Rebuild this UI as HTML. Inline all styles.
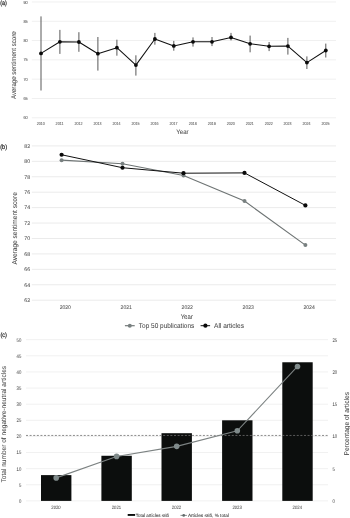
<!DOCTYPE html>
<html lang="en">
<head>
<meta charset="utf-8">
<title>Figure</title>
<style>
html,body{margin:0;padding:0;background:#fff;}
body{width:350px;height:518px;overflow:hidden;}
svg{display:block;font-family:"Liberation Sans", sans-serif;text-rendering:geometricPrecision;}
</style>
</head>
<body>
<svg width="350" height="518" viewBox="0 0 350 518">
<rect width="350" height="518" fill="#ffffff"/>
<text transform="translate(0.2 5.2) scale(0.05)" font-size="132.0" text-anchor="start" fill="#1a1a1a" textLength="132.0" lengthAdjust="spacingAndGlyphs"  stroke="#1a1a1a" stroke-width="4.0">(a)</text>
<line x1="31.8" x2="336" y1="117.78" y2="117.78" stroke="#f0f0f0" stroke-width="1"/>
<text transform="translate(27.7 119.38) scale(0.05)" font-size="88.0" text-anchor="end" fill="#505050" textLength="84.0" lengthAdjust="spacingAndGlyphs"  stroke="#505050" stroke-width="1.0">60</text>
<line x1="31.8" x2="336" y1="98.48" y2="98.48" stroke="#f0f0f0" stroke-width="1"/>
<text transform="translate(27.7 100.08) scale(0.05)" font-size="88.0" text-anchor="end" fill="#505050" textLength="84.0" lengthAdjust="spacingAndGlyphs"  stroke="#505050" stroke-width="1.0">65</text>
<line x1="31.8" x2="336" y1="79.17" y2="79.17" stroke="#f0f0f0" stroke-width="1"/>
<text transform="translate(27.7 80.77) scale(0.05)" font-size="88.0" text-anchor="end" fill="#505050" textLength="84.0" lengthAdjust="spacingAndGlyphs"  stroke="#505050" stroke-width="1.0">70</text>
<line x1="31.8" x2="336" y1="59.87" y2="59.87" stroke="#f0f0f0" stroke-width="1"/>
<text transform="translate(27.7 61.47) scale(0.05)" font-size="88.0" text-anchor="end" fill="#505050" textLength="84.0" lengthAdjust="spacingAndGlyphs"  stroke="#505050" stroke-width="1.0">75</text>
<line x1="31.8" x2="336" y1="40.56" y2="40.56" stroke="#f0f0f0" stroke-width="1"/>
<text transform="translate(27.7 42.16) scale(0.05)" font-size="88.0" text-anchor="end" fill="#505050" textLength="84.0" lengthAdjust="spacingAndGlyphs"  stroke="#505050" stroke-width="1.0">80</text>
<line x1="31.8" x2="336" y1="21.25" y2="21.25" stroke="#f0f0f0" stroke-width="1"/>
<text transform="translate(27.7 22.86) scale(0.05)" font-size="88.0" text-anchor="end" fill="#505050" textLength="84.0" lengthAdjust="spacingAndGlyphs"  stroke="#505050" stroke-width="1.0">85</text>
<line x1="31.8" x2="336" y1="1.95" y2="1.95" stroke="#f0f0f0" stroke-width="1"/>
<text transform="translate(27.7 3.55) scale(0.05)" font-size="88.0" text-anchor="end" fill="#505050" textLength="84.0" lengthAdjust="spacingAndGlyphs"  stroke="#505050" stroke-width="1.0">90</text>
<line x1="41.0" x2="41.0" y1="16.4" y2="90.5" stroke="#585858" stroke-width="1.0"/>
<text transform="translate(40.7 124.6) scale(0.05)" font-size="88.0" text-anchor="middle" fill="#505050" textLength="160.0" lengthAdjust="spacingAndGlyphs"  stroke="#505050" stroke-width="1.0">2010</text>
<line x1="59.9" x2="59.9" y1="29.9" y2="53.9" stroke="#585858" stroke-width="1.0"/>
<text transform="translate(59.6 124.6) scale(0.05)" font-size="88.0" text-anchor="middle" fill="#505050" textLength="160.0" lengthAdjust="spacingAndGlyphs"  stroke="#505050" stroke-width="1.0">2011</text>
<line x1="78.9" x2="78.9" y1="32.2" y2="51.8" stroke="#585858" stroke-width="1.0"/>
<text transform="translate(78.6 124.6) scale(0.05)" font-size="88.0" text-anchor="middle" fill="#505050" textLength="160.0" lengthAdjust="spacingAndGlyphs"  stroke="#505050" stroke-width="1.0">2012</text>
<line x1="97.9" x2="97.9" y1="37.0" y2="70.6" stroke="#585858" stroke-width="1.0"/>
<text transform="translate(97.6 124.6) scale(0.05)" font-size="88.0" text-anchor="middle" fill="#505050" textLength="160.0" lengthAdjust="spacingAndGlyphs"  stroke="#505050" stroke-width="1.0">2013</text>
<line x1="116.9" x2="116.9" y1="39.7" y2="55.7" stroke="#585858" stroke-width="1.0"/>
<text transform="translate(116.6 124.6) scale(0.05)" font-size="88.0" text-anchor="middle" fill="#505050" textLength="160.0" lengthAdjust="spacingAndGlyphs"  stroke="#505050" stroke-width="1.0">2014</text>
<line x1="135.9" x2="135.9" y1="55.3" y2="75.6" stroke="#585858" stroke-width="1.0"/>
<text transform="translate(135.6 124.6) scale(0.05)" font-size="88.0" text-anchor="middle" fill="#505050" textLength="160.0" lengthAdjust="spacingAndGlyphs"  stroke="#505050" stroke-width="1.0">2015</text>
<line x1="154.9" x2="154.9" y1="32.9" y2="44.7" stroke="#585858" stroke-width="1.0"/>
<text transform="translate(154.6 124.6) scale(0.05)" font-size="88.0" text-anchor="middle" fill="#505050" textLength="160.0" lengthAdjust="spacingAndGlyphs"  stroke="#505050" stroke-width="1.0">2016</text>
<line x1="173.8" x2="173.8" y1="40.9" y2="50.7" stroke="#585858" stroke-width="1.0"/>
<text transform="translate(173.5 124.6) scale(0.05)" font-size="88.0" text-anchor="middle" fill="#505050" textLength="160.0" lengthAdjust="spacingAndGlyphs"  stroke="#505050" stroke-width="1.0">2017</text>
<line x1="193.0" x2="193.0" y1="37.4" y2="46.6" stroke="#585858" stroke-width="1.0"/>
<text transform="translate(192.7 124.6) scale(0.05)" font-size="88.0" text-anchor="middle" fill="#505050" textLength="160.0" lengthAdjust="spacingAndGlyphs"  stroke="#505050" stroke-width="1.0">2018</text>
<line x1="212.0" x2="212.0" y1="37.0" y2="46.1" stroke="#585858" stroke-width="1.0"/>
<text transform="translate(211.7 124.6) scale(0.05)" font-size="88.0" text-anchor="middle" fill="#505050" textLength="160.0" lengthAdjust="spacingAndGlyphs"  stroke="#505050" stroke-width="1.0">2019</text>
<line x1="231.0" x2="231.0" y1="32.9" y2="40.4" stroke="#585858" stroke-width="1.0"/>
<text transform="translate(230.7 124.6) scale(0.05)" font-size="88.0" text-anchor="middle" fill="#505050" textLength="160.0" lengthAdjust="spacingAndGlyphs"  stroke="#505050" stroke-width="1.0">2020</text>
<line x1="250.1" x2="250.1" y1="35.6" y2="52.3" stroke="#585858" stroke-width="1.0"/>
<text transform="translate(249.8 124.6) scale(0.05)" font-size="88.0" text-anchor="middle" fill="#505050" textLength="160.0" lengthAdjust="spacingAndGlyphs"  stroke="#505050" stroke-width="1.0">2021</text>
<line x1="269.1" x2="269.1" y1="42.0" y2="51.1" stroke="#585858" stroke-width="1.0"/>
<text transform="translate(268.8 124.6) scale(0.05)" font-size="88.0" text-anchor="middle" fill="#505050" textLength="160.0" lengthAdjust="spacingAndGlyphs"  stroke="#505050" stroke-width="1.0">2022</text>
<line x1="287.9" x2="287.9" y1="37.9" y2="54.6" stroke="#585858" stroke-width="1.0"/>
<text transform="translate(287.6 124.6) scale(0.05)" font-size="88.0" text-anchor="middle" fill="#505050" textLength="160.0" lengthAdjust="spacingAndGlyphs"  stroke="#505050" stroke-width="1.0">2023</text>
<line x1="306.9" x2="306.9" y1="56.4" y2="69.0" stroke="#585858" stroke-width="1.0"/>
<text transform="translate(306.6 124.6) scale(0.05)" font-size="88.0" text-anchor="middle" fill="#505050" textLength="160.0" lengthAdjust="spacingAndGlyphs"  stroke="#505050" stroke-width="1.0">2024</text>
<line x1="325.8" x2="325.8" y1="43.6" y2="57.5" stroke="#585858" stroke-width="1.0"/>
<text transform="translate(325.5 124.6) scale(0.05)" font-size="88.0" text-anchor="middle" fill="#505050" textLength="160.0" lengthAdjust="spacingAndGlyphs"  stroke="#505050" stroke-width="1.0">2025</text>
<polyline points="41.0,53.4 59.9,41.8 78.9,42.0 97.9,53.7 116.9,47.7 135.9,65.1 154.9,39.0 173.8,45.9 193.0,41.8 212.0,41.8 231.0,37.4 250.1,43.8 269.1,46.3 287.9,46.1 306.9,62.6 325.8,50.5" fill="none" stroke="#111" stroke-width="1.05" stroke-linejoin="round"/>
<circle cx="41.0" cy="53.4" r="1.9" fill="#0a0a0a"/>
<circle cx="59.9" cy="41.8" r="1.9" fill="#0a0a0a"/>
<circle cx="78.9" cy="42.0" r="1.9" fill="#0a0a0a"/>
<circle cx="97.9" cy="53.7" r="1.9" fill="#0a0a0a"/>
<circle cx="116.9" cy="47.7" r="1.9" fill="#0a0a0a"/>
<circle cx="135.9" cy="65.1" r="1.9" fill="#0a0a0a"/>
<circle cx="154.9" cy="39.0" r="1.9" fill="#0a0a0a"/>
<circle cx="173.8" cy="45.9" r="1.9" fill="#0a0a0a"/>
<circle cx="193.0" cy="41.8" r="1.9" fill="#0a0a0a"/>
<circle cx="212.0" cy="41.8" r="1.9" fill="#0a0a0a"/>
<circle cx="231.0" cy="37.4" r="1.9" fill="#0a0a0a"/>
<circle cx="250.1" cy="43.8" r="1.9" fill="#0a0a0a"/>
<circle cx="269.1" cy="46.3" r="1.9" fill="#0a0a0a"/>
<circle cx="287.9" cy="46.1" r="1.9" fill="#0a0a0a"/>
<circle cx="306.9" cy="62.6" r="1.9" fill="#0a0a0a"/>
<circle cx="325.8" cy="50.5" r="1.9" fill="#0a0a0a"/>
<text transform="translate(182.4 133.7) scale(0.05)" font-size="130.0" text-anchor="middle" fill="#484848" textLength="248.0" lengthAdjust="spacingAndGlyphs"  stroke="#484848" stroke-width="1.0">Year</text>
<text transform="translate(16 65.2) rotate(-90) scale(0.05)" font-size="136.0" text-anchor="middle" fill="#484848" textLength="1356.0" lengthAdjust="spacingAndGlyphs"  stroke="#484848" stroke-width="1.0">Average sentiment score</text>
<text transform="translate(0.2 149.2) scale(0.05)" font-size="132.0" text-anchor="start" fill="#1a1a1a" textLength="136.0" lengthAdjust="spacingAndGlyphs"  stroke="#1a1a1a" stroke-width="4.0">(b)</text>
<line x1="31.8" x2="336" y1="300.20" y2="300.20" stroke="#ebebeb" stroke-width="1"/>
<text transform="translate(27.2 302.05) scale(0.05)" font-size="108.0" text-anchor="middle" fill="#505050" textLength="118.0" lengthAdjust="spacingAndGlyphs"  stroke="#505050" stroke-width="1.0">62</text>
<line x1="31.8" x2="336" y1="284.77" y2="284.77" stroke="#ebebeb" stroke-width="1"/>
<text transform="translate(27.2 286.62) scale(0.05)" font-size="108.0" text-anchor="middle" fill="#505050" textLength="118.0" lengthAdjust="spacingAndGlyphs"  stroke="#505050" stroke-width="1.0">64</text>
<line x1="31.8" x2="336" y1="269.34" y2="269.34" stroke="#ebebeb" stroke-width="1"/>
<text transform="translate(27.2 271.19) scale(0.05)" font-size="108.0" text-anchor="middle" fill="#505050" textLength="118.0" lengthAdjust="spacingAndGlyphs"  stroke="#505050" stroke-width="1.0">66</text>
<line x1="31.8" x2="336" y1="253.91" y2="253.91" stroke="#ebebeb" stroke-width="1"/>
<text transform="translate(27.2 255.76) scale(0.05)" font-size="108.0" text-anchor="middle" fill="#505050" textLength="118.0" lengthAdjust="spacingAndGlyphs"  stroke="#505050" stroke-width="1.0">68</text>
<line x1="31.8" x2="336" y1="238.48" y2="238.48" stroke="#ebebeb" stroke-width="1"/>
<text transform="translate(27.2 240.33) scale(0.05)" font-size="108.0" text-anchor="middle" fill="#505050" textLength="118.0" lengthAdjust="spacingAndGlyphs"  stroke="#505050" stroke-width="1.0">70</text>
<line x1="31.8" x2="336" y1="223.05" y2="223.05" stroke="#ebebeb" stroke-width="1"/>
<text transform="translate(27.2 224.9) scale(0.05)" font-size="108.0" text-anchor="middle" fill="#505050" textLength="118.0" lengthAdjust="spacingAndGlyphs"  stroke="#505050" stroke-width="1.0">72</text>
<line x1="31.8" x2="336" y1="207.62" y2="207.62" stroke="#ebebeb" stroke-width="1"/>
<text transform="translate(27.2 209.47) scale(0.05)" font-size="108.0" text-anchor="middle" fill="#505050" textLength="118.0" lengthAdjust="spacingAndGlyphs"  stroke="#505050" stroke-width="1.0">74</text>
<line x1="31.8" x2="336" y1="192.19" y2="192.19" stroke="#ebebeb" stroke-width="1"/>
<text transform="translate(27.2 194.04) scale(0.05)" font-size="108.0" text-anchor="middle" fill="#505050" textLength="118.0" lengthAdjust="spacingAndGlyphs"  stroke="#505050" stroke-width="1.0">76</text>
<line x1="31.8" x2="336" y1="176.76" y2="176.76" stroke="#ebebeb" stroke-width="1"/>
<text transform="translate(27.2 178.61) scale(0.05)" font-size="108.0" text-anchor="middle" fill="#505050" textLength="118.0" lengthAdjust="spacingAndGlyphs"  stroke="#505050" stroke-width="1.0">78</text>
<line x1="31.8" x2="336" y1="161.33" y2="161.33" stroke="#ebebeb" stroke-width="1"/>
<text transform="translate(27.2 163.18) scale(0.05)" font-size="108.0" text-anchor="middle" fill="#505050" textLength="118.0" lengthAdjust="spacingAndGlyphs"  stroke="#505050" stroke-width="1.0">80</text>
<line x1="31.8" x2="336" y1="145.90" y2="145.90" stroke="#ebebeb" stroke-width="1"/>
<text transform="translate(27.2 147.75) scale(0.05)" font-size="108.0" text-anchor="middle" fill="#505050" textLength="118.0" lengthAdjust="spacingAndGlyphs"  stroke="#505050" stroke-width="1.0">82</text>
<polyline points="61.6,160.17 122.5,163.80 183.5,175.53 244.5,201.06 305.4,245.11" fill="none" stroke="#6e7474" stroke-width="1.15"/>
<circle cx="61.6" cy="160.17" r="2.0" fill="#788080"/>
<circle cx="122.5" cy="163.80" r="2.0" fill="#788080"/>
<circle cx="183.5" cy="175.53" r="2.0" fill="#788080"/>
<circle cx="244.5" cy="201.06" r="2.0" fill="#788080"/>
<circle cx="305.4" cy="245.11" r="2.0" fill="#788080"/>
<polyline points="61.6,154.77 122.5,167.73 183.5,173.21 244.5,172.90 305.4,205.38" fill="none" stroke="#111" stroke-width="1"/>
<circle cx="61.6" cy="154.77" r="2.1" fill="#0a0a0a"/>
<circle cx="122.5" cy="167.73" r="2.1" fill="#0a0a0a"/>
<circle cx="183.5" cy="173.21" r="2.1" fill="#0a0a0a"/>
<circle cx="244.5" cy="172.90" r="2.1" fill="#0a0a0a"/>
<circle cx="305.4" cy="205.38" r="2.1" fill="#0a0a0a"/>
<text transform="translate(65.3 308.9) scale(0.05)" font-size="108.0" text-anchor="middle" fill="#505050" textLength="224.0" lengthAdjust="spacingAndGlyphs"  stroke="#505050" stroke-width="1.0">2020</text>
<text transform="translate(126.2 308.9) scale(0.05)" font-size="108.0" text-anchor="middle" fill="#505050" textLength="224.0" lengthAdjust="spacingAndGlyphs"  stroke="#505050" stroke-width="1.0">2021</text>
<text transform="translate(187.2 308.9) scale(0.05)" font-size="108.0" text-anchor="middle" fill="#505050" textLength="224.0" lengthAdjust="spacingAndGlyphs"  stroke="#505050" stroke-width="1.0">2022</text>
<text transform="translate(248.2 308.9) scale(0.05)" font-size="108.0" text-anchor="middle" fill="#505050" textLength="224.0" lengthAdjust="spacingAndGlyphs"  stroke="#505050" stroke-width="1.0">2023</text>
<text transform="translate(309.1 308.9) scale(0.05)" font-size="108.0" text-anchor="middle" fill="#505050" textLength="224.0" lengthAdjust="spacingAndGlyphs"  stroke="#505050" stroke-width="1.0">2024</text>
<text transform="translate(186.7 318.7) scale(0.05)" font-size="136.0" text-anchor="middle" fill="#484848" textLength="242.0" lengthAdjust="spacingAndGlyphs"  stroke="#484848" stroke-width="1.0">Year</text>
<text transform="translate(16.8 228.4) rotate(-90) scale(0.05)" font-size="140" text-anchor="middle" fill="#484848" textLength="1448.0" lengthAdjust="spacingAndGlyphs"  stroke="#484848" stroke-width="1.0">Average sentiment score</text>
<line x1="124.9" x2="134.7" y1="325.7" y2="325.7" stroke="#6e7474" stroke-width="1.15"/>
<circle cx="129.8" cy="325.7" r="2.0" fill="#788080"/>
<text transform="translate(138.8 328.2) scale(0.05)" font-size="140" text-anchor="start" fill="#484848" textLength="1110.0" lengthAdjust="spacingAndGlyphs"  stroke="#484848" stroke-width="1.0">Top 50 publications</text>
<line x1="200.6" x2="210.1" y1="325.7" y2="325.7" stroke="#111" stroke-width="1"/>
<circle cx="205.4" cy="325.7" r="2.1" fill="#0a0a0a"/>
<text transform="translate(214 328.2) scale(0.05)" font-size="140" text-anchor="start" fill="#484848" textLength="600" lengthAdjust="spacingAndGlyphs"  stroke="#484848" stroke-width="1.0">All articles</text>
<text transform="translate(0.5 336.5) scale(0.05)" font-size="132.0" text-anchor="start" fill="#1a1a1a" textLength="128.0" lengthAdjust="spacingAndGlyphs"  stroke="#1a1a1a" stroke-width="4.0">(c)</text>
<line x1="26" x2="328" y1="500.90" y2="500.90" stroke="#f1f1f1" stroke-width="1"/>
<text transform="translate(21.3 502.75) scale(0.05)" font-size="104.0" text-anchor="end" fill="#505050" textLength="48.0" lengthAdjust="spacingAndGlyphs"  stroke="#505050" stroke-width="1.0">0</text>
<line x1="26" x2="328" y1="484.78" y2="484.78" stroke="#f1f1f1" stroke-width="1"/>
<text transform="translate(21.3 486.63) scale(0.05)" font-size="104.0" text-anchor="end" fill="#505050" textLength="48.0" lengthAdjust="spacingAndGlyphs"  stroke="#505050" stroke-width="1.0">5</text>
<line x1="26" x2="328" y1="468.66" y2="468.66" stroke="#f1f1f1" stroke-width="1"/>
<text transform="translate(21.3 470.51) scale(0.05)" font-size="104.0" text-anchor="end" fill="#505050" textLength="96.0" lengthAdjust="spacingAndGlyphs"  stroke="#505050" stroke-width="1.0">10</text>
<line x1="26" x2="328" y1="452.54" y2="452.54" stroke="#f1f1f1" stroke-width="1"/>
<text transform="translate(21.3 454.39) scale(0.05)" font-size="104.0" text-anchor="end" fill="#505050" textLength="96.0" lengthAdjust="spacingAndGlyphs"  stroke="#505050" stroke-width="1.0">15</text>
<line x1="26" x2="328" y1="436.42" y2="436.42" stroke="#f1f1f1" stroke-width="1"/>
<text transform="translate(21.3 438.27) scale(0.05)" font-size="104.0" text-anchor="end" fill="#505050" textLength="96.0" lengthAdjust="spacingAndGlyphs"  stroke="#505050" stroke-width="1.0">20</text>
<line x1="26" x2="328" y1="420.30" y2="420.30" stroke="#f1f1f1" stroke-width="1"/>
<text transform="translate(21.3 422.15) scale(0.05)" font-size="104.0" text-anchor="end" fill="#505050" textLength="96.0" lengthAdjust="spacingAndGlyphs"  stroke="#505050" stroke-width="1.0">25</text>
<line x1="26" x2="328" y1="404.18" y2="404.18" stroke="#f1f1f1" stroke-width="1"/>
<text transform="translate(21.3 406.03) scale(0.05)" font-size="104.0" text-anchor="end" fill="#505050" textLength="96.0" lengthAdjust="spacingAndGlyphs"  stroke="#505050" stroke-width="1.0">30</text>
<line x1="26" x2="328" y1="388.06" y2="388.06" stroke="#f1f1f1" stroke-width="1"/>
<text transform="translate(21.3 389.91) scale(0.05)" font-size="104.0" text-anchor="end" fill="#505050" textLength="96.0" lengthAdjust="spacingAndGlyphs"  stroke="#505050" stroke-width="1.0">35</text>
<line x1="26" x2="328" y1="371.94" y2="371.94" stroke="#f1f1f1" stroke-width="1"/>
<text transform="translate(21.3 373.79) scale(0.05)" font-size="104.0" text-anchor="end" fill="#505050" textLength="96.0" lengthAdjust="spacingAndGlyphs"  stroke="#505050" stroke-width="1.0">40</text>
<line x1="26" x2="328" y1="355.82" y2="355.82" stroke="#f1f1f1" stroke-width="1"/>
<text transform="translate(21.3 357.67) scale(0.05)" font-size="104.0" text-anchor="end" fill="#505050" textLength="96.0" lengthAdjust="spacingAndGlyphs"  stroke="#505050" stroke-width="1.0">45</text>
<line x1="26" x2="328" y1="339.70" y2="339.70" stroke="#f1f1f1" stroke-width="1"/>
<text transform="translate(21.3 341.55) scale(0.05)" font-size="104.0" text-anchor="end" fill="#505050" textLength="96.0" lengthAdjust="spacingAndGlyphs"  stroke="#505050" stroke-width="1.0">50</text>
<text transform="translate(332.4 502.75) scale(0.05)" font-size="104.0" text-anchor="start" fill="#505050" textLength="48.0" lengthAdjust="spacingAndGlyphs"  stroke="#505050" stroke-width="1.0">0</text>
<text transform="translate(332.4 470.51) scale(0.05)" font-size="104.0" text-anchor="start" fill="#505050" textLength="48.0" lengthAdjust="spacingAndGlyphs"  stroke="#505050" stroke-width="1.0">5</text>
<text transform="translate(332.4 438.27) scale(0.05)" font-size="104.0" text-anchor="start" fill="#505050" textLength="96.0" lengthAdjust="spacingAndGlyphs"  stroke="#505050" stroke-width="1.0">10</text>
<text transform="translate(332.4 406.03) scale(0.05)" font-size="104.0" text-anchor="start" fill="#505050" textLength="96.0" lengthAdjust="spacingAndGlyphs"  stroke="#505050" stroke-width="1.0">15</text>
<text transform="translate(332.4 373.79) scale(0.05)" font-size="104.0" text-anchor="start" fill="#505050" textLength="96.0" lengthAdjust="spacingAndGlyphs"  stroke="#505050" stroke-width="1.0">20</text>
<text transform="translate(332.4 341.55) scale(0.05)" font-size="104.0" text-anchor="start" fill="#505050" textLength="96.0" lengthAdjust="spacingAndGlyphs"  stroke="#505050" stroke-width="1.0">25</text>
<rect x="41.00" y="475.11" width="30.4" height="25.79" fill="#0c0e0d"/>
<rect x="101.40" y="455.76" width="30.4" height="45.14" fill="#0c0e0d"/>
<rect x="161.50" y="433.20" width="30.4" height="67.70" fill="#0c0e0d"/>
<rect x="222.10" y="420.30" width="30.4" height="80.60" fill="#0c0e0d"/>
<rect x="282.30" y="362.27" width="30.4" height="138.63" fill="#0c0e0d"/>
<line x1="26" x2="328" y1="435.45" y2="435.45" stroke="#707070" stroke-width="0.8" stroke-dasharray="2 1.61"/>
<polyline points="56.2,477.88 116.6,456.41 176.7,446.35 237.3,430.81 297.5,366.46" fill="none" stroke="#7c8282" stroke-width="1.1"/>
<circle cx="56.2" cy="477.88" r="2.8" fill="#7f8a8a"/>
<circle cx="116.6" cy="456.41" r="2.8" fill="#7f8a8a"/>
<circle cx="176.7" cy="446.35" r="2.8" fill="#7f8a8a"/>
<circle cx="237.3" cy="430.81" r="2.8" fill="#7f8a8a"/>
<circle cx="297.5" cy="366.46" r="2.8" fill="#7f8a8a"/>
<text transform="translate(56.0 508.5) scale(0.05)" font-size="96.0" text-anchor="middle" fill="#505050" textLength="188.0" lengthAdjust="spacingAndGlyphs"  stroke="#505050" stroke-width="1.0">2020</text>
<text transform="translate(116.4 508.5) scale(0.05)" font-size="96.0" text-anchor="middle" fill="#505050" textLength="188.0" lengthAdjust="spacingAndGlyphs"  stroke="#505050" stroke-width="1.0">2021</text>
<text transform="translate(176.5 508.5) scale(0.05)" font-size="96.0" text-anchor="middle" fill="#505050" textLength="188.0" lengthAdjust="spacingAndGlyphs"  stroke="#505050" stroke-width="1.0">2022</text>
<text transform="translate(237.1 508.5) scale(0.05)" font-size="96.0" text-anchor="middle" fill="#505050" textLength="188.0" lengthAdjust="spacingAndGlyphs"  stroke="#505050" stroke-width="1.0">2023</text>
<text transform="translate(297.3 508.5) scale(0.05)" font-size="96.0" text-anchor="middle" fill="#505050" textLength="188.0" lengthAdjust="spacingAndGlyphs"  stroke="#505050" stroke-width="1.0">2024</text>
<text transform="translate(6.2 424.2) rotate(-90) scale(0.05)" font-size="136.0" text-anchor="middle" fill="#484848" textLength="2334.0" lengthAdjust="spacingAndGlyphs"  stroke="#484848" stroke-width="1.0">Total number of negative-neutral articles</text>
<text transform="translate(348.6 423.7) rotate(-90) scale(0.05)" font-size="140" text-anchor="middle" fill="#484848" textLength="1270.0" lengthAdjust="spacingAndGlyphs"  stroke="#484848" stroke-width="1.0">Percentage of articles</text>
<rect x="127.7" y="514" width="7.4" height="1.9" fill="#0c0e0d"/>
<text transform="translate(135.7 516.7) scale(0.05)" font-size="94.0" text-anchor="start" fill="#333" textLength="668.0" lengthAdjust="spacingAndGlyphs"  stroke="#333" stroke-width="1.0">Total articles ≤65</text>
<line x1="180.5" x2="186.9" y1="515.4" y2="515.4" stroke="#6a7272" stroke-width="0.8"/>
<circle cx="183.7" cy="515.4" r="1.35" fill="#616a6a"/>
<text transform="translate(187.9 516.7) scale(0.05)" font-size="94.0" text-anchor="start" fill="#333" textLength="820.0" lengthAdjust="spacingAndGlyphs"  stroke="#333" stroke-width="1.0">Articles ≤65, % total</text>
</svg>
</body>
</html>
